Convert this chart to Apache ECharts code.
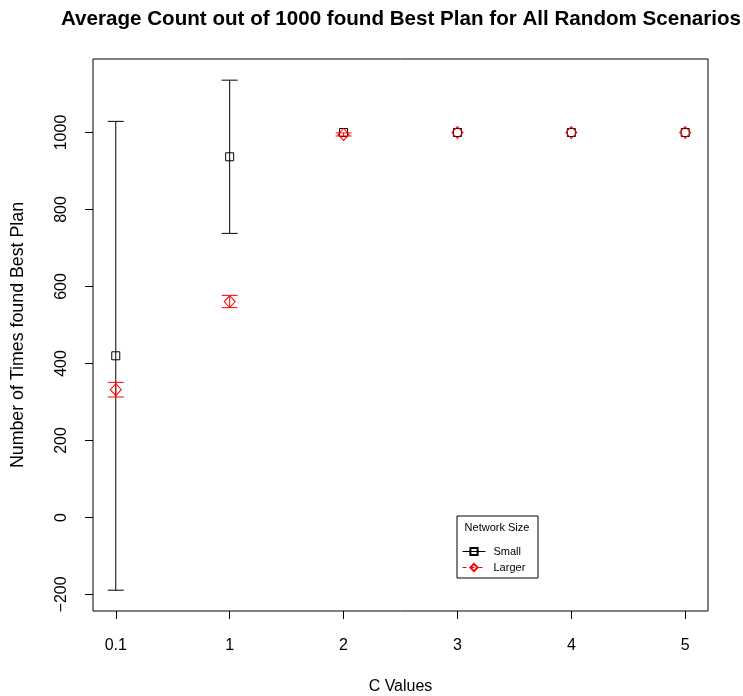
<!DOCTYPE html>
<html>
<head>
<meta charset="utf-8">
<script src="https://cdn.jsdelivr.net/npm/echarts@6/dist/echarts.min.js"></script>
<style>
  html, body { margin: 0; padding: 0; background: #fff; }
  #chart { width: 743px; height: 696px; }
</style>
</head>
<body>
<div id="chart"></div>
<script>
// C parameter values shown on the x axis (placed at positions 1..6)
var cLabels = ['0.1', '1', '2', '3', '4', '5'];
// Mean count out of 1000 and error half-width, small networks
var smallMean = [420, 937, 1000, 1000, 1000, 1000];
var smallErr  = [609, 199, 0, 0, 0, 0];
// Mean count out of 1000 and error half-width, larger networks
var largerMean = [332, 561, 995, 1000, 1000, 1000];
var largerErr  = [19, 16, 4, 0, 0, 0];
// Y axis tick values
var yTicks = [-200, 0, 200, 400, 600, 800, 1000];

var FONT = '"Liberation Sans", Arial, Helvetica, sans-serif';

function points(means) {
  return means.map(function (v, i) { return [i + 1, v]; });
}
function bars(means, errs) {
  return means.map(function (v, i) { return [i + 1, v - errs[i], v + errs[i]]; });
}

function errorBar(color) {
  return function (params, api) {
    var lo = api.value(1), hi = api.value(2);
    if (hi === lo) return null;
    var top = api.coord([api.value(0), hi]);
    var bot = api.coord([api.value(0), lo]);
    var half = 8;
    var style = { stroke: color, lineWidth: 1 };
    return {
      type: 'group',
      children: [
        { type: 'line', shape: { x1: top[0], y1: top[1], x2: bot[0], y2: bot[1] }, style: style },
        { type: 'line', shape: { x1: top[0] - half, y1: top[1], x2: top[0] + half, y2: top[1] }, style: style },
        { type: 'line', shape: { x1: bot[0] - half, y1: bot[1], x2: bot[0] + half, y2: bot[1] }, style: style }
      ]
    };
  };
}

var chart = echarts.init(document.getElementById('chart'), null, { renderer: 'canvas' });

chart.setOption({
  animation: false,
  backgroundColor: '#fff',
  textStyle: { fontFamily: FONT },
  title: {
    text: 'Average Count out of 1000 found Best Plan for All Random Scenarios',
    left: 396,
    top: 4,
    textAlign: 'center',
    textStyle: { fontFamily: FONT, fontSize: 20.6, fontWeight: 'bold', color: '#000' }
  },
  grid: {
    left: 93, right: 35, top: 59, bottom: 85,
    outerBoundsMode: 'none',
    containLabel: false,
    show: true, borderColor: '#000', borderWidth: 1, backgroundColor: 'transparent'
  },
  xAxis: {
    type: 'value',
    min: 0.8, max: 6.2,
    name: 'C Values',
    nameLocation: 'middle',
    nameGap: 68,
    nameTextStyle: { fontFamily: FONT, fontSize: 16, color: '#000' },
    axisLine: { show: false, onZero: false },
    splitLine: { show: false },
    axisTick: { show: true, length: 8, customValues: [1, 2, 3, 4, 5, 6], lineStyle: { color: '#000' } },
    axisLabel: {
      customValues: [1, 2, 3, 4, 5, 6],
      margin: 27,
      fontFamily: FONT, fontSize: 16, color: '#000',
      formatter: function (v) { return cLabels[Math.round(v) - 1]; }
    }
  },
  yAxis: {
    type: 'value',
    min: -243, max: 1191,
    name: 'Number of Times found Best Plan',
    nameLocation: 'middle',
    nameRotate: 90,
    nameGap: 66,
    nameTextStyle: { fontFamily: FONT, fontSize: 17.8, color: '#000' },
    axisLine: { show: false, onZero: false },
    splitLine: { show: false },
    axisTick: { show: true, length: 8, customValues: yTicks, lineStyle: { color: '#000' } },
    axisLabel: {
      customValues: yTicks,
      rotate: 90,
      margin: 23,
      fontFamily: FONT, fontSize: 16, color: '#000',
      formatter: function (v) { return v < 0 ? '\u2212' + Math.abs(v) : String(v); }
    }
  },
  legend: {
    orient: 'vertical',
    left: 457,
    top: 541,
    itemWidth: 23,
    itemHeight: 9,
    itemGap: 5,
    textStyle: { fontFamily: FONT, fontSize: 11, color: '#000', padding: [0, 0, 0, 3] },
    data: [
      { name: 'Small', lineStyle: { color: '#000', width: 1, opacity: 1, type: 'solid' } },
      { name: 'Larger', lineStyle: { color: '#ff0000', width: 1, opacity: 1, type: [4, 4] } }
    ]
  },
  graphic: [
    {
      type: 'rect',
      shape: { x: 457, y: 516, width: 81, height: 62 },
      style: { fill: 'transparent', stroke: '#000', lineWidth: 1 },
      z: 10
    },
    {
      type: 'text',
      x: 497, y: 528,
      style: { text: 'Network Size', fontFamily: FONT, fontSize: 11, fill: '#000', textAlign: 'center', textVerticalAlign: 'middle' },
      z: 10
    }
  ],
  series: [
    {
      name: 'Small error',
      type: 'custom',
      renderItem: errorBar('#000'),
      data: bars(smallMean, smallErr),
      encode: { x: 0, y: [1, 2] },
      z: 2
    },
    {
      name: 'Small',
      type: 'line',
      data: points(smallMean),
      symbol: 'rect',
      symbolSize: 8,
      lineStyle: { opacity: 0 },
      itemStyle: { color: 'transparent', borderColor: '#000', borderWidth: 1 },
      z: 3
    },
    {
      name: 'Larger error',
      type: 'custom',
      renderItem: errorBar('#ff0000'),
      data: bars(largerMean, largerErr),
      encode: { x: 0, y: [1, 2] },
      z: 4
    },
    {
      name: 'Larger',
      type: 'line',
      data: points(largerMean),
      symbol: 'diamond',
      symbolSize: [11, 12],
      lineStyle: { opacity: 0 },
      itemStyle: { color: 'transparent', borderColor: '#ff0000', borderWidth: 1 },
      z: 5
    }
  ]
});
</script>
</body>
</html>
